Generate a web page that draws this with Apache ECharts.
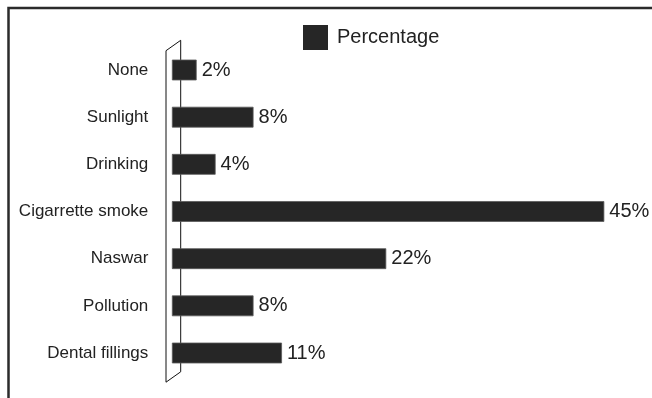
<!DOCTYPE html>
<html>
<head>
<meta charset="utf-8">
<style>
  html, body { margin: 0; padding: 0; background: #fff; }
  #chart { width: 652px; height: 398px; }
</style>
<script src="https://cdn.jsdelivr.net/npm/echarts@6/dist/echarts.min.js"></script>
</head>
<body>
<div id="chart"></div>
<script>
// Causes reported, top to bottom, with their share of respondents
const categories = ['None', 'Sunlight', 'Drinking', 'Cigarrette smoke', 'Naswar', 'Pollution', 'Dental fillings'];
const percentages = [2, 8, 4, 45, 22, 8, 11];
const seriesName = 'Percentage';

const FONT = '"Liberation Sans", Arial, sans-serif';
const INK = '#262626';

// Plot area
const G = { left: 177.3, top: 46.4, width: 474, height: 330.2 };

// Slanted "wall" behind the category axis (front and back edges)
const wallFront = G.left - 11.3;
const wallBack = wallFront + 14.7;
const wallTopFront = G.top + 4.3;
const wallBottomFront = G.top + G.height + 5.6;
const wallRise = 10.4;

const chart = echarts.init(document.getElementById('chart'));

chart.setOption({
  animation: false,
  backgroundColor: '#ffffff',
  legend: {
    data: [seriesName],
    left: 303,
    top: 25,
    padding: 0,
    itemWidth: 25,
    itemHeight: 25,
    icon: 'rect',
    itemGap: 10,
    textStyle: { fontFamily: FONT, fontSize: 20, color: '#222', padding: [0, 0, 0, 4] }
  },
  grid: Object.assign({ outerBoundsMode: 'none', containLabel: false }, G),
  xAxis: {
    type: 'value',
    min: 0,
    max: 50,
    show: false
  },
  yAxis: {
    type: 'category',
    data: categories,
    inverse: true,
    axisLine: { show: false },
    axisTick: { show: false },
    splitLine: { show: false },
    axisLabel: { fontFamily: FONT, fontSize: 17, color: '#222', margin: 29 }
  },
  graphic: [
    {
      type: 'rect',
      z: -10,
      shape: { x: 8.5, y: 8, width: 720, height: 460 },
      style: { fill: 'none', stroke: '#2b2b2b', lineWidth: 2.5 }
    },
    {
      type: 'polygon',
      z: 0,
      shape: {
        points: [
          [wallFront, wallTopFront],
          [wallBack, wallTopFront - wallRise],
          [wallBack, wallBottomFront - wallRise],
          [wallFront, wallBottomFront]
        ]
      },
      style: { fill: '#fff', stroke: '#111', lineWidth: 1 }
    }
  ],
  series: [
    {
      name: seriesName,
      type: 'custom',
      z: 5,
      itemStyle: { color: INK },
      encode: { x: 0, y: 1 },
      data: percentages.map((v, i) => [v, i]),
      renderItem: function (params, api) {
        const idx = api.value(1);
        const start = api.coord([0, idx]);
        const end = api.coord([api.value(0), idx]);
        const h = api.size([0, 1])[1] * 0.424;
        const inset = 5; // bars begin slightly inside the wall
        return {
          type: 'rect',
          shape: { x: start[0] - inset, y: start[1] - h / 2, width: end[0] - start[0] + inset, height: h },
          style: { fill: INK, stroke: '#5a5a5a', lineWidth: 0.8 },
          textContent: {
            style: {
              text: api.value(0) + '%',
              fontFamily: FONT,
              fontSize: 20,
              fill: '#222'
            }
          },
          textConfig: { position: 'right', distance: 5 }
        };
      }
    }
  ]
});
</script>
</body>
</html>
